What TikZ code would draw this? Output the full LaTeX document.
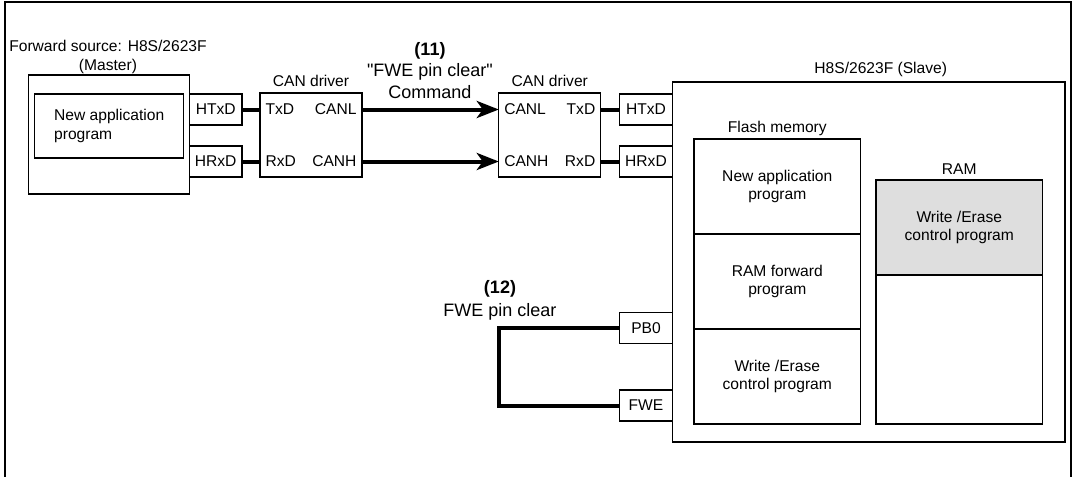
\documentclass[tikz,border=0pt]{standalone}
\usepackage{fontspec}
\setmainfont{Liberation Sans}
\usepackage{xcolor}
\usetikzlibrary{arrows.meta,positioning}
\definecolor{ramgray}{HTML}{DEDEDE}
\newcommand{\straightquote}{\XeTeXglyph\XeTeXcharglyph"22\relax}

\begin{document}
\begin{tikzpicture}[x=0.5pt, y=-0.5pt, font=\fontsize{7.8}{9.4}\selectfont,
  box/.style={draw, line width=0.6pt, inner sep=0pt, outer sep=0pt, align=center},
  pin/.style={box, minimum width=26.3pt, minimum height=15.5pt},
  drv/.style={box, minimum width=51pt, minimum height=42pt, text width=45.5pt, align=left},
  mem/.style={box, minimum width=83.3pt, minimum height=47.5pt},
  lbl/.style={inner sep=0pt, align=center},
  big/.style={lbl, font=\fontsize{9}{10.75}\selectfont},
  bus/.style={line width=2pt},
  a/.style={bus, -{Stealth[length=11pt, width=8.5pt, inset=3pt]}}]
\useasboundingbox (0,0) rectangle (1073,477);
\draw[line width=1pt] (5,477) -- (5,1.7) -- (1070.5,1.7) -- (1070.5,477);
\node[box, minimum width=80.4pt, minimum height=59.5pt] (master) at (109,134.5) {};
\node[box, minimum width=74.4pt, minimum height=32pt, align=left] (newapp) at (109.2,126)
  {New application\\program};
\node[lbl, above=0.6pt of master, xshift=-0.5pt] (src) {Forward source: H8S/2623F\\(Master)};
\node[pin] (htx1) at (215.7,109.5) {HTxD};
\node[pin] (hrx1) at (215.7,161.5) {HRxD};
\node[drv] (can1) at (311,135) {TxD\hfill CANL\\[16.35pt]RxD\hfill CANH};
\node[lbl, above=2.75pt of can1] (can1l) {CAN driver};
\node[drv] (can2) at (549.8,135) {CANL\hfill TxD\\[16.35pt]CANH\hfill RxD};
\node[lbl, above=2.75pt of can2] (can2l) {CAN driver};
\node[pin] (htx2) at (646,109.5) {HTxD};
\node[pin] (hrx2) at (646,161.5) {HRxD};
\node[box, line width=0.7pt, minimum width=196.25pt, minimum height=180pt] (slave) at (868.75,262) {};
\node[lbl, above=2.25pt of slave, xshift=6pt] (slavel) {H8S/2623F (Slave)};
\node[mem] (fl1) at (777.3,186.5) {New application\\program};
\node[mem, below=0pt of fl1] (fl2) {RAM forward\\program};
\node[mem, below=0pt of fl2] (fl3) {Write /Erase\\control program};
\node[lbl, above=1.25pt of fl1] (flashl) {Flash memory};
\node[mem, fill=ramgray] (ram1) at (959.3,227.5) {Write /Erase\\control program};
\node[mem, minimum height=74.5pt, below=0pt of ram1] (ram2) {};
\node[lbl, above=2.75pt of ram1] (raml) {RAM};
\node[pin] (pb0) at (646,328) {PB0};
\node[pin] (fwe) at (646,405.5) {FWE};
\node[big] (cmd) at (430,70.5) {\textbf{(11)}\\\straightquote FWE pin clear\straightquote\\Command};
\node[big] (pinclr) at (500,300) {\textbf{(12)}\\[0.75pt]FWE pin clear};
\coordinate (loopc) at (498.6,366);
\draw[bus] (htx1.east) -- (htx1.east -| can1.west);
\draw[bus] (hrx1.east) -- (hrx1.east -| can1.west);
\draw[a] (can1.east |- htx1) -- (can2.west |- htx1);
\draw[a] (can1.east |- hrx1) -- (can2.west |- hrx1);
\draw[bus] (can2.east |- htx2) -- (htx2.west);
\draw[bus] (can2.east |- hrx2) -- (hrx2.west);
\draw[bus] (pb0.west) -- (pb0.west -| loopc) |- (fwe.west);
\end{tikzpicture}
\end{document}
